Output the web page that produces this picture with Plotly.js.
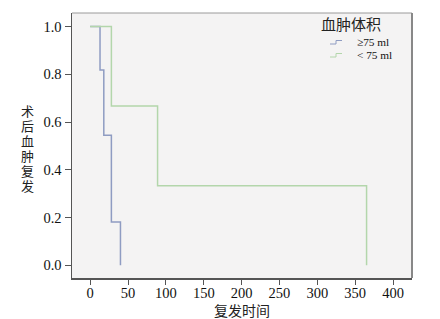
<!DOCTYPE html>
<html>
<head>
<meta charset="utf-8">
<script src="https://cdn.plot.ly/plotly-3.0.1.min.js"></script>
<style>html,body{margin:0;padding:0;background:#fff;}#chart{width:440px;height:319px;}</style>
</head>
<body>
<div id="chart"></div>
<script>
const seriesNames = ["≥75 ml", "< 75 ml"];
const seriesColors = ["#8f9cc2", "#b3d6ab"];
const timeHigh = [0, 13, 18, 28, 40];
const survHigh = [1, 0.818, 0.545, 0.182, 0];
const timeLow = [0, 28, 89, 365];
const survLow = [1, 0.667, 0.333, 0];
const xTicks = [0, 50, 100, 150, 200, 250, 300, 350, 400];
const yTicks = [0, 0.2, 0.4, 0.6, 0.8, 1.0];
const yTickText = ["0.0", "0.2", "0.4", "0.6", "0.8", "1.0"];
const yTitleChars = ["术", "后", "血", "肿", "复", "发"];
const legendTitle = "血肿体积";
const xTitle = "复发时间";

const serif = "Liberation Serif, Times New Roman, serif";
const cjk = "Liberation Serif, Noto Sans CJK SC, serif";

// plot area in pixels
const L = 72, R = 412, T = 13, B = 278, W = 440, H = 319;
const px = x => (x - L) / (R - L);
const py = y => (B - y) / (B - T);

const traces = [
  {x: timeHigh, y: survHigh, name: seriesNames[0], mode: "lines", line: {shape: "hv", color: seriesColors[0], width: 1.5}},
  {x: timeLow, y: survLow, name: seriesNames[1], mode: "lines", line: {shape: "hv", color: seriesColors[1], width: 1.5}}
];

const shapes = [
  {type: "line", xref: "paper", yref: "paper", x0: 0, x1: 1, y0: 1, y1: 1, line: {color: "#9a9a9a", width: 1}},
  {type: "line", xref: "paper", yref: "paper", x0: 1, x1: 1, y0: 0, y1: 1, line: {color: "#888", width: 2}}
];
const annotations = [];

// y title, stacked characters
yTitleChars.forEach((c, i) => {
  annotations.push({text: c, xref: "paper", yref: "paper", x: px(28), y: py(111 + i * 15),
    xanchor: "center", yanchor: "middle", showarrow: false,
    font: {family: cjk, size: 13, color: "#222"}});
});
// legend title
annotations.push({text: legendTitle, xref: "paper", yref: "paper", x: px(319), y: py(25),
  xanchor: "left", yanchor: "middle", showarrow: false, font: {family: cjk, size: 15, color: "#222"}});
// legend items
seriesNames.forEach((n, i) => {
  const cy = 42 + i * 13;
  annotations.push({text: n, xref: "paper", yref: "paper", x: px(355), y: py(cy),
    xanchor: "left", yanchor: "middle", showarrow: false, font: {family: serif, size: 11.3, color: "#111"}});
  const a = px(330), b = px(336), c = px(342);
  const lo = py(cy + 2), hi = py(cy - 1.5);
  shapes.push({type: "path", xref: "paper", yref: "paper",
    path: `M ${a} ${lo} L ${b} ${lo} L ${b} ${hi} L ${c} ${hi}`,
    line: {color: seriesColors[i], width: 1}});
});

const layout = {
  width: W, height: H,
  margin: {l: L, r: W - R, t: T, b: H - B},
  paper_bgcolor: "#ffffff",
  plot_bgcolor: "#f4f3f3",
  showlegend: false,
  xaxis: {range: [-24, 425], tickvals: xTicks, ticks: "outside", ticklen: 5, tickcolor: "#555",
          ticklabelstandoff: -4,
          showgrid: false, zeroline: false, showline: true, linecolor: "#555", linewidth: 1.5,
          tickfont: {family: serif, size: 14.5, color: "#111"},
          title: {text: xTitle, font: {family: cjk, size: 14, color: "#222"}, standoff: 8}},
  yaxis: {range: [-0.053, 1.057], tickvals: yTicks, ticktext: yTickText, ticks: "outside", ticklen: 6, tickcolor: "#555",
          showgrid: false, zeroline: false, showline: true, linecolor: "#555", linewidth: 1.5,
          tickfont: {family: serif, size: 14.5, color: "#111"}},
  shapes: shapes,
  annotations: annotations
};

Plotly.newPlot("chart", traces, layout, {displayModeBar: false, staticPlot: true});
</script>
</body>
</html>
